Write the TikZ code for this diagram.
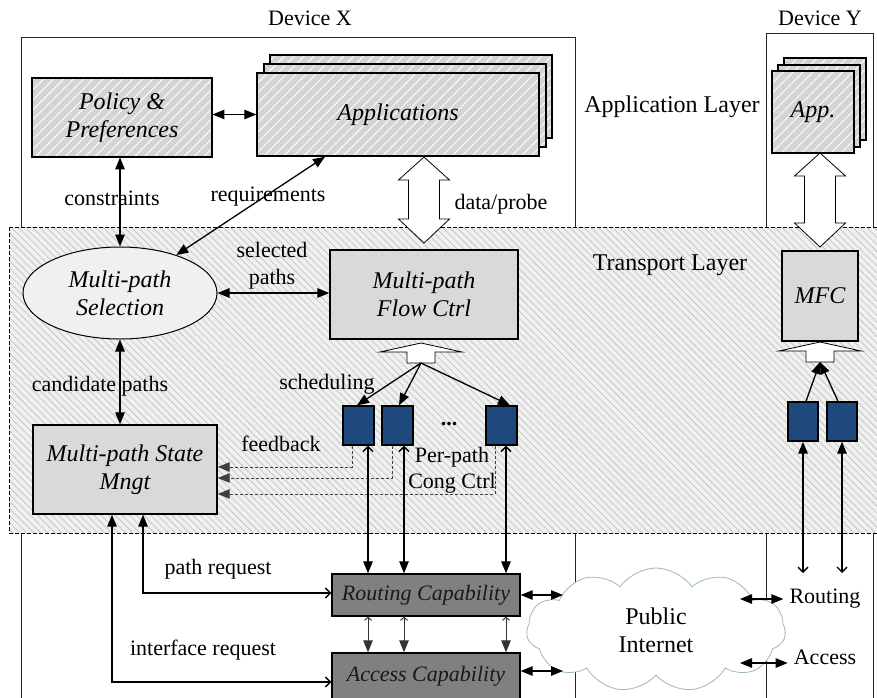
\documentclass[tikz,border=0pt]{standalone}
\usepackage{fontspec}
\setmainfont{Liberation Serif}
\usetikzlibrary{arrows.meta,patterns.meta,shapes.geometric,shapes.symbols,calc}

\definecolor{boxgray}{HTML}{D9D9D9}
\definecolor{hatchbg}{HTML}{D4D4D4}
\definecolor{layerbg}{HTML}{F0F0F0}
\definecolor{layerline}{HTML}{C6C6C6}
\definecolor{capgray}{HTML}{808080}
\definecolor{queueblue}{HTML}{1F497D}
\definecolor{cloudline}{HTML}{9DB7BF}

\tikzset{
  tri/.tip={Triangle[length=12pt,width=9.5pt]},
  barb/.tip={Straight Barb[length=5pt,width=10pt]},
  smallbarb/.tip={Straight Barb[length=3pt,width=7pt]},
  lbl/.style={font=\fontsize{22}{27}\selectfont, inner sep=1pt, align=center},
  layerlbl/.style={font=\fontsize{24}{28}\selectfont, inner sep=1pt},
  conn/.style={line width=1.3pt, draw=black},
  fbline/.style={line width=0.9pt, draw=black!75, dash pattern=on 3pt off 2pt},
  devline/.style={line width=0.8pt, draw=black!85},
  blockarr/.style={draw, line width=0.8pt, fill=white, line join=miter},
  ital/.style={font=\fontsize{24}{28}\selectfont\itshape, align=center, inner sep=0pt},
  appbox/.style={ital, draw, line width=1.4pt, preaction={fill=hatchbg},
    pattern={Lines[angle=45,distance=7pt,line width=0.9pt]}, pattern color=white},
  grbox/.style={ital, draw, line width=1.4pt, fill=boxgray},
  capbox/.style={draw, line width=1.4pt, fill=capgray, inner sep=0pt,
    font=\fontsize{22}{26}\selectfont\itshape, text=black!90,
    minimum width=188pt},
  queue/.style={draw, line width=1.4pt, fill=queueblue, inner sep=0pt,
    minimum width=31pt, minimum height=39pt},
}

% double-headed vertical block arrow: x, top tip, bottom tip
\newcommand\blockdouble[3]{%
  \draw[blockarr] (#1,#2) -- ++(25.5,23) -- ++(-10,0) -- (#1+15.5,#3-24)
    -- ++(10,0) -- (#1,#3) -- ++(-25.5,-24) -- ++(10,0) -- (#1-15.5,#2+23)
    -- ++(-10,0) -- cycle;}
% flat upward block arrow: x, tip
\newcommand\blockup[2]{%
  \draw[blockarr] (#1,#2) -- ++(41,9) -- ++(-27,0) -- ++(0,11) -- ++(-28,0)
    -- ++(0,-11) -- ++(-27,0) -- cycle;}

\begin{document}
\begin{tikzpicture}[x=1pt,y=-1pt]
\clip (0,0) rectangle (877,697);

% device outlines
\draw[devline] (21,710) -- (21,37) -- (575,37) -- (575,710);
\draw[devline] (766,710) -- (766,33) -- (873,33) -- (873,710);
\node[lbl] (devx) at (310,18) {Device X};
\node[lbl] (devy) at (820,18) {Device Y};

% transport layer band
\path[preaction={fill=layerbg}, pattern={Lines[angle=-45,distance=5pt,line width=0.8pt]},
  pattern color=layerline] (9,227) rectangle (890,533);
\draw[line width=0.8pt, dash pattern=on 4pt off 2pt] (9,227) rectangle (890,533);

\node[layerlbl] (applayer) at (672,107) {Application Layer};
\node[layerlbl] (translayer) at (670,265) {Transport Layer};

% application layer, device X
\node[appbox, minimum width=180pt, minimum height=79pt] (policy) at (122,117.5) {Policy \&\\Preferences};
\node[appbox, minimum width=282pt, minimum height=83pt] (appsC) at (411,96.5) {};
\node[appbox, minimum width=282pt, minimum height=83pt] (appsB) at (405,105.5) {};
\node[appbox, minimum width=282pt, minimum height=83pt] (apps) at (398,114.5) {Applications};

% application layer, device Y
\node[appbox, minimum width=82pt, minimum height=82pt] (appYC) at (825,99) {};
\node[appbox, minimum width=82pt, minimum height=82pt] (appYB) at (819,106) {};
\node[appbox, minimum width=82pt, minimum height=82pt] (appY) at (813,112) {App.};

% block arrows
\blockdouble{424}{157}{243}
\blockdouble{820}{153}{247}
\blockup{421}{343}
\blockup{820}{342}
\coordinate (schedX) at (421,363);
\coordinate (schedY) at (820,362);

% transport layer, device X
\node[grbox, minimum width=188pt, minimum height=89pt] (mfcX) at (424,294.5) {Multi-path\\Flow Ctrl};
\node[ital, draw, ellipse, line width=1pt, fill=layerbg, minimum width=194pt, minimum height=92pt] (sel) at (120,293) {Multi-path\\Selection};
\node[grbox, minimum width=184pt, minimum height=89pt] (state) at (125,469.5) {Multi-path State\\Mngt};
\node[queue] (q1) at (358.5,425.5) {};
\node[queue] (q2) at (397.5,425.5) {};
\node[queue] (q3) at (501.5,425.5) {};

% transport layer, device Y
\node[grbox, minimum width=76pt, minimum height=90pt] (mfcY) at (820,296) {MFC};
\node[queue, minimum width=30pt] (qy1) at (803,421.5) {};
\node[queue, minimum width=30pt] (qy2) at (842,421.5) {};

% network capabilities
\node[capbox, minimum height=42pt] (routing) at (426,595) {Routing Capability};
\node[capbox, minimum height=46pt] (access) at (426,676) {Access Capability};
\node[cloud, cloud puffs=11, cloud puff arc=110, cloud ignores aspect,
  minimum width=259pt, minimum height=124pt, draw=cloudline, fill=white,
  line width=0.8pt, align=center, font=\fontsize{24}{28}\selectfont] (net) at (656,630) {Public\\Internet};
\node[lbl] (ry) at (825,599) {Routing};
\node[lbl] (ay) at (825,657) {Access};

% application-level connectors
\draw[conn, tri-tri] (apps.west -| policy.east) -- (apps.west);
\draw[conn, tri-tri] (sel.north) -- (sel.north |- policy.south);
\node[lbl] (lcons) at (112,198) {constraints};
\draw[conn, tri-tri] (sel.34) -- (apps.south -| 325,0);
\node[lbl] (lreq) at (268,197) {requirements};
\node[lbl] (ldata) at (501,204) {data/probe};

% selection and state
\draw[conn, tri-tri] (sel.east) -- (sel.east -| mfcX.west);
\node[lbl, font=\fontsize{22}{27}\selectfont] (lsel) at (272,266) {selected\\paths};
\draw[conn, tri-tri] (sel.south) -- (sel.south |- state.north);
\node[lbl] (lcand) at (100,386) {candidate paths};

% scheduling onto per-path queues
\draw[conn, -tri] (schedX) -- ($(q1.north)+(-1.5,0)$);
\draw[conn, -tri] (schedX) -- ($(q2.north)+(1.5,0)$);
\draw[conn, -tri] (schedX) -- ($(q3.north)+(8.5,0)$);
\node[lbl] (lsched) at (327,384) {scheduling};
\node[font=\fontsize{22}{27}\selectfont\bfseries, inner sep=0pt] (dots) at (449,424) {...};
\node[lbl, font=\fontsize{22}{26}\selectfont] (lcong) at (452,470) {Per-path\\Cong Ctrl};

% feedback to state management
\draw[fbline, -tri] ($(q1.south)+(-6.5,0)$) |- (state.east |- 0,467);
\draw[fbline, -tri] ($(q2.south)+(-5.5,0)$) |- (state.east |- 0,478);
\draw[fbline, -tri] ($(q3.south)+(-6.5,0)$) |- (state.east |- 0,494);
\node[lbl] (lfb) at (281,444) {feedback};

% queues down to routing, routing to access
\coordinate (l1) at ($(q1.south)+(9.5,0)$);
\coordinate (l2) at ($(q2.south)+(6.5,0)$);
\coordinate (l3) at ($(q3.south)+(4.5,0)$);
\foreach \c in {l1,l2,l3}{
  \draw[conn, barb-tri] (\c) -- (\c |- routing.north);
  \draw[line width=1pt, draw=black!80, smallbarb-tri] (\c |- routing.south) -- (\c |- access.north);
}

% requests from state management
\draw[conn, tri-barb] (state.south -| 143,0) |- (routing.west |- 0,593);
\node[lbl] (lpath) at (218,569) {path request};
\draw[conn, tri-barb] (state.south -| 112,0) |- (access.west |- 0,682);
\node[lbl] (lif) at (203,650) {interface request};

% capabilities to the internet
\draw[conn, tri-tri] (routing.east) -- (routing.east -| 563,0);
\draw[conn, tri-tri] (access.east |- 0,671) -- (563,671);
\draw[conn, tri-tri, shorten >=5pt] (740,599) -- (ry.west);
\draw[conn, tri-tri, shorten >=5pt] (740,663) -- (ay.west |- 0,663);

% device Y paths
\draw[conn, barb-tri] (qy1.south |- 0,573) -- (qy1.south);
\draw[conn, barb-tri] (qy2.south |- 0,573) -- (qy2.south);
\draw[conn, -tri] ($(qy1.north)+(3,0)$) -- (schedY);
\draw[conn, -tri] ($(qy2.north)+(-4,0)$) -- (schedY);
\end{tikzpicture}
\end{document}
